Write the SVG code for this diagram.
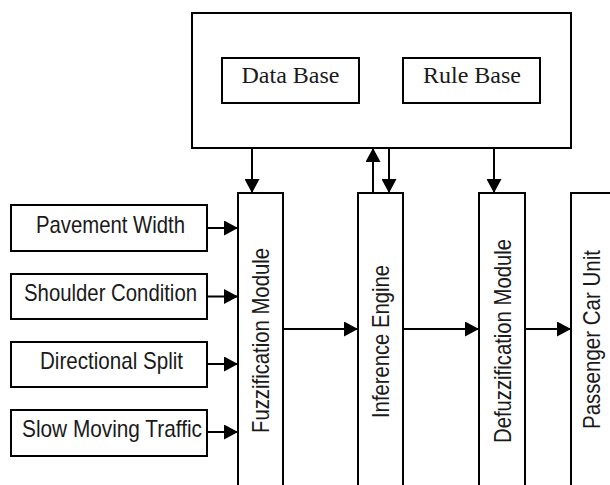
<svg xmlns="http://www.w3.org/2000/svg" width="610" height="485" viewBox="0 0 610 485">
  <style>
    .box { fill: #ffffff; stroke: #000000; stroke-width: 2; }
    .conn { fill: none; stroke: #000000; stroke-width: 2; }
    .sans { font-family: "Liberation Sans", Arial, sans-serif; font-size: 24px; fill: #1a1a1a; }
    .serif { font-family: "Liberation Serif", "Times New Roman", serif; font-size: 24px; fill: #1a1a1a; }
  </style>
  <defs>
    <marker id="arrow" viewBox="0 0 14 15" refX="14" refY="7.5" markerWidth="14" markerHeight="15" orient="auto" markerUnits="userSpaceOnUse">
      <path d="M0,0 L14,7.5 L0,15 Z" fill="#000000"/>
    </marker>
  </defs>
  <rect width="610" height="485" fill="#ffffff"/>

  <g id="knowledge-base">
    <rect class="box" x="192" y="13" width="379" height="135"/>
  </g>
  <g id="data-base">
    <rect class="box" x="222" y="58" width="137" height="45"/>
    <text class="serif" x="290.5" y="83" text-anchor="middle">Data Base</text>
  </g>
  <g id="rule-base">
    <rect class="box" x="403" y="58" width="137" height="45"/>
    <text class="serif" x="472" y="83" text-anchor="middle">Rule Base</text>
  </g>

  <g id="pavement-width">
    <rect class="box" x="11" y="205" width="196" height="46"/>
    <text class="sans" x="110.5" y="232.5" text-anchor="middle" textLength="149" lengthAdjust="spacingAndGlyphs">Pavement Width</text>
  </g>
  <g id="shoulder-condition">
    <rect class="box" x="11" y="274" width="196" height="45"/>
    <text class="sans" x="110.5" y="300.5" text-anchor="middle" textLength="173" lengthAdjust="spacingAndGlyphs">Shoulder Condition</text>
  </g>
  <g id="directional-split">
    <rect class="box" x="11" y="342" width="196" height="45"/>
    <text class="sans" x="111.5" y="368.5" text-anchor="middle" textLength="143" lengthAdjust="spacingAndGlyphs">Directional Split</text>
  </g>
  <g id="slow-moving-traffic">
    <rect class="box" x="11" y="410" width="196" height="46"/>
    <text class="sans" x="112" y="437" text-anchor="middle" textLength="180" lengthAdjust="spacingAndGlyphs">Slow Moving Traffic</text>
  </g>

  <g id="fuzzification-module">
    <rect class="box" x="238" y="193" width="45" height="300"/>
    <text class="sans" transform="translate(268.5,340.5) rotate(-90)" x="0" y="0" text-anchor="middle" textLength="185" lengthAdjust="spacingAndGlyphs">Fuzzification Module</text>
  </g>
  <g id="inference-engine">
    <rect class="box" x="358" y="193" width="45" height="300"/>
    <text class="sans" transform="translate(388.5,341.5) rotate(-90)" x="0" y="0" text-anchor="middle" textLength="153" lengthAdjust="spacingAndGlyphs">Inference Engine</text>
  </g>
  <g id="defuzzification-module">
    <rect class="box" x="479" y="193" width="46" height="300"/>
    <text class="sans" transform="translate(510.5,341) rotate(-90)" x="0" y="0" text-anchor="middle" textLength="204" lengthAdjust="spacingAndGlyphs">Defuzzification Module</text>
  </g>
  <g id="passenger-car-unit">
    <rect class="box" x="571" y="193" width="60" height="300"/>
    <text class="sans" transform="translate(599.5,339.5) rotate(-90)" x="0" y="0" text-anchor="middle" textLength="179" lengthAdjust="spacingAndGlyphs">Passenger Car Unit</text>
  </g>

  <g id="connectors">
    <line class="conn" x1="252" y1="148" x2="252" y2="193" marker-end="url(#arrow)"/>
    <line class="conn" x1="373" y1="193" x2="373" y2="148" marker-end="url(#arrow)"/>
    <line class="conn" x1="389" y1="148" x2="389" y2="193" marker-end="url(#arrow)"/>
    <line class="conn" x1="494" y1="148" x2="494" y2="193" marker-end="url(#arrow)"/>
    <line class="conn" x1="207" y1="228" x2="238" y2="228" marker-end="url(#arrow)"/>
    <line class="conn" x1="207" y1="296.5" x2="238" y2="296.5" marker-end="url(#arrow)"/>
    <line class="conn" x1="207" y1="364" x2="238" y2="364" marker-end="url(#arrow)"/>
    <line class="conn" x1="207" y1="432" x2="238" y2="432" marker-end="url(#arrow)"/>
    <line class="conn" x1="283" y1="329" x2="358" y2="329" marker-end="url(#arrow)"/>
    <line class="conn" x1="403" y1="329" x2="479" y2="329" marker-end="url(#arrow)"/>
    <line class="conn" x1="525" y1="329" x2="571" y2="329" marker-end="url(#arrow)"/>
  </g>
</svg>
